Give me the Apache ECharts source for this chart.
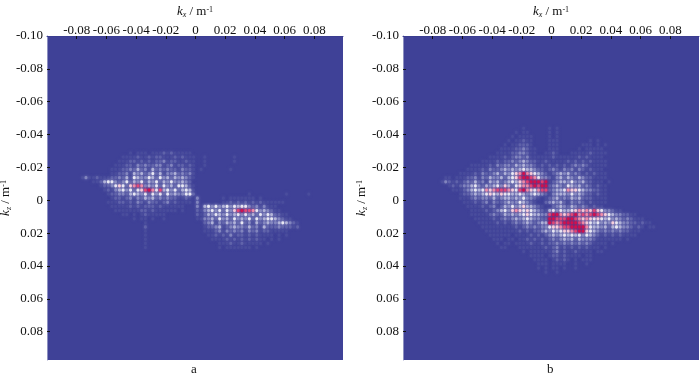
<!DOCTYPE html>
<html><head><meta charset="utf-8">
<style>html,body{margin:0;padding:0;background:#fff}#c{width:700px;height:378px}</style>
<script src="https://cdn.jsdelivr.net/npm/echarts@6/dist/echarts.min.js"></script>
</head><body><div id="c"></div>
<script>
// Spectrum levels (0 = background ... 9 = peak).
const cellStep = 0.0025;
const kxStart = -0.09;
const kzStartA = -0.03;
const kzStartB = -0.045;
const panelNames = ['a', 'b'];
const levelColors = ['#3f4197','#4a4d9d','#6063aa','#8285be','#b0b2d7','#e8e8f3','#f7d0dc','#ef8fab','#e04a7a','#d0124f'];
const rowsA = [
"00000000 00000000 00101110 11121211 11100000 00000000",
"00000000 00000000 11112112 12211121 21110010 00000010",
"00000000 00000001 11221212 12231221 12110010 00000010",
"00000000 00000011 12213232 23312312 21210010 00000000",
"00000000 00000111 22324231 42323221 32210100 00000100",
"00000000 00000112 23143423 52413342 32310000 00000000",
"00000131 12111223 24154335 42534243 43210000 00000000",
"00000000 11245532 35243524 35243533 43200000 00000000",
"00000000 00122356 52678734 35253425 54210000 00000000",
"00000000 00012134 53525689 75845352 45410000 00000000",
"00000000 00001223 32454352 53525343 35520000 00000000 00100000 00001000 00100000",
"00000000 00000122 12313243 42323221 12103000 00010111 11110100 00000000",
"00000000 00001112 21213213 22123121 11103000 00011212 12121211 11110000",
"00000000 00000111 11212122 21211111 10003045 35345354 55323131 11000000",
"00000000 00000011 11111221 21111110 10002134 53525368 98875343 21100000",
"00000000 00000000 11010121 11110000 00002124 35435345 35342535 42211000",
"00000000 00000000 00010110 10010000 00001133 42534253 43525345 54321100",
"00000000 00000000 00000010 00000000 00000023 41324342 52314234 33454321",
"00000000 00000000 00000020 00000000 00000012 23412343 32423142 22322212",
"00000000 00000000 00000010 00000000 00000011 12313232 31323122 11111000",
"00000000 00000000 00000010 00000000 00000001 12121312 21212111 10101000",
"00000000 00000000 00000010 00000000 00000000 11112121 21212110 10100000",
"00000000 00000000 00000010 00000000 00000000 00111211 21111101 00000000",
"00000000 00000000 00000010 00000000 00000000 00101111 11101000 00000000"
];
const rowsB = [
"00000000 00000000 00000000 00001000 00010100",
"00000000 00000000 00000000 00101100 00010100",
"00000000 00000000 00000000 01011110 00010100",
"00000000 00000000 00000000 10112110 00011100 00000010 10000000",
"00000000 00000000 00000001 01122210 00011100 00001110 10100000",
"00000000 00000000 00000011 11223211 00011100 00010111 11000000",
"00000000 00000000 00000111 12233211 00112100 01111121 11100000",
"00000000 00000000 00011112 12332311 11112111 11121211 11000000",
"00000000 00000000 01111212 23234322 11211111 21212121 11100000",
"00000000 00000011 11121323 32434332 12121212 12323211 11100000",
"00000000 00000111 12132234 34345443 22123213 23132121 11000000",
"00000000 00011112 13223424 35679765 43212343 42321212 11100000",
"00000001 10111223 13243342 45689987 53321342 43243221 11100000",
"00000013 21212324 23143423 45467899 98912344 35334221 11010000",
"00000000 12123345 32434536 42567789 89923432 54342321 21100000",
"00000000 01112345 45767888 76589765 78823445 76654332 21100000",
"00000000 00012234 34565465 54454345 43213444 35343221 21100000",
"00000000 00011123 23324234 43435332 10123423 24342221 11100000",
"00000000 00001112 12313223 43354321 00234342 13232121 11100000",
"00000000 00000111 12123124 35346443 21002343 24323212 11000000",
"00000000 00000011 11212345 36765654 32145354 45676768 65332110",
"00000000 00000011 11123224 34345654 43389976 78978789 87654332 21100000",
"00000000 00000001 11112123 23434543 32299888 99876765 65453432 32111000",
"00000000 00000000 11111212 12323432 34498789 99987654 53436543 32212110",
"00000000 00000000 01111111 11212323 23356678 89999754 43424543 32121011",
"00000000 00000000 00111111 11121212 23435456 67899654 32323232 21110000",
"00000000 00000000 00011111 10111121 21234345 45453543 21212121 11100000",
"00000000 00000000 00001110 11011212 12123234 34243332 11111110 10000000",
"00000000 00000000 00000101 10111121 12122323 23232321 11101000",
"00000000 00000000 00000011 00011111 11212312 12121211 10100000",
"00000000 00000000 00000000 00001011 11112312 11211110 11000000",
"00000000 00000000 00000000 00000011 11012212 11110110",
"00000000 00000000 00000000 00000001 11101212 10101110",
"00000000 00000000 00000000 00000000 11101111 00100100",
"00000000 00000000 00000000 00000000 10101101 00100000",
"00000000 00000000 00000000 00000000 00100100"
];

function cells(rows, zStart) {
  const out = [];
  rows.forEach((r, j) => {
    r.replace(/ /g, '').split('').forEach((ch, i) => {
      if (ch !== '0') out.push([kxStart + (i + .5) * cellStep, zStart + (j + .5) * cellStep, +ch]);
    });
  });
  return out.sort((a, b) => a[2] - b[2]);
}
const fmt = v => Math.abs(v) < 1e-9 ? '0' : v.toFixed(2);
const font = '"Liberation Serif","Times New Roman",serif';
const gridLeft = [47, 403];
const panelCenter = [195, 551];
const chart = echarts.init(document.getElementById('c'), null, {renderer: 'canvas'});
const renderCell = (p, api) => {
  const a = api.coord([api.value(0) - cellStep / 2, api.value(1) - cellStep / 2]);
  const b = api.coord([api.value(0) + cellStep / 2, api.value(1) + cellStep / 2]);
  const col = levelColors[api.value(2)];
  return {type: 'rect', shape: {x: a[0] + .4, y: a[1] + .4, width: b[0] - a[0] - .8, height: b[1] - a[1] - .8, r: 1.5},
    style: {fill: col, shadowBlur: 3, shadowColor: col}};
};
const nameRich = {
  i: {fontFamily: font, fontStyle: 'italic', fontSize: 13, color: '#111'},
  s: {fontFamily: font, fontStyle: 'italic', fontSize: 8, color: '#111', verticalAlign: 'bottom', padding: [6, 0, 0, 0]},
  t: {fontFamily: font, fontSize: 13, color: '#111'},
  u: {fontFamily: font, fontSize: 8, color: '#111', padding: [0, 0, 5, 0]}
};
const tickValues = [-0.08,-0.06,-0.04,-0.02,0,0.02,0.04,0.06,0.08];
chart.setOption({
  animation: false,
  backgroundColor: '#fff',
  title: panelNames.map((n, i) => ({text: n, left: panelCenter[i] - 9, top: 358, textStyle: {fontFamily: font, fontSize: 13, fontWeight: 'normal', color: '#111'}})),
  grid: gridLeft.map(l => ({left: l, top: 36, width: 296, height: 324, outerBoundsMode: 'none', show: true, backgroundColor: levelColors[0], borderWidth: 0})),
  xAxis: [0, 1].map(i => ({
    type: 'value', gridIndex: i, position: 'top', min: -0.1, max: 0.0993, interval: 0.02,
    splitLine: {show: false},
    axisLine: {show: true, onZero: false, lineStyle: {color: '#3a3d90', width: 1}},
    axisTick: {inside: true, length: 3, lineStyle: {color: '#111'}, customValues: tickValues},
    axisLabel: {margin: -1, fontFamily: font, fontSize: 13, color: '#111', hideOverlap: false,
      formatter: v => (v < -0.09 || v > 0.09) ? '' : fmt(v)},
    name: '{i|k}{s|x}{t| / m}{u|-1}', nameLocation: 'middle', nameGap: 17, nameMoveOverlap: false,
    nameTextStyle: {rich: nameRich}
  })),
  yAxis: [0, 1].map(i => ({
    type: 'value', gridIndex: i, inverse: true, min: -0.1, max: 0.0972, interval: 0.02,
    splitLine: {show: false},
    axisLine: {show: true, onZero: false, lineStyle: {color: '#8d90c0', width: 1}},
    axisTick: {inside: true, length: 3, lineStyle: {color: '#111'}, customValues: tickValues},
    axisLabel: {margin: 4, fontFamily: font, fontSize: 13, color: '#111', hideOverlap: false,
      formatter: v => v > 0.09 ? '' : fmt(v)},
    name: '{i|k}{s|z}{t| / m}{u|-1}', nameLocation: 'middle', nameGap: 34, nameRotate: 90, nameMoveOverlap: false,
    nameTextStyle: {rich: nameRich}
  })),
  series: [[rowsA, kzStartA], [rowsB, kzStartB]].map((d, i) => ({
    type: 'custom', xAxisIndex: i, yAxisIndex: i, clip: true, progressive: 0,
    renderItem: renderCell, data: cells(d[0], d[1]), encode: {x: 0, y: 1}, silent: true
  }))
});
</script></body></html>
